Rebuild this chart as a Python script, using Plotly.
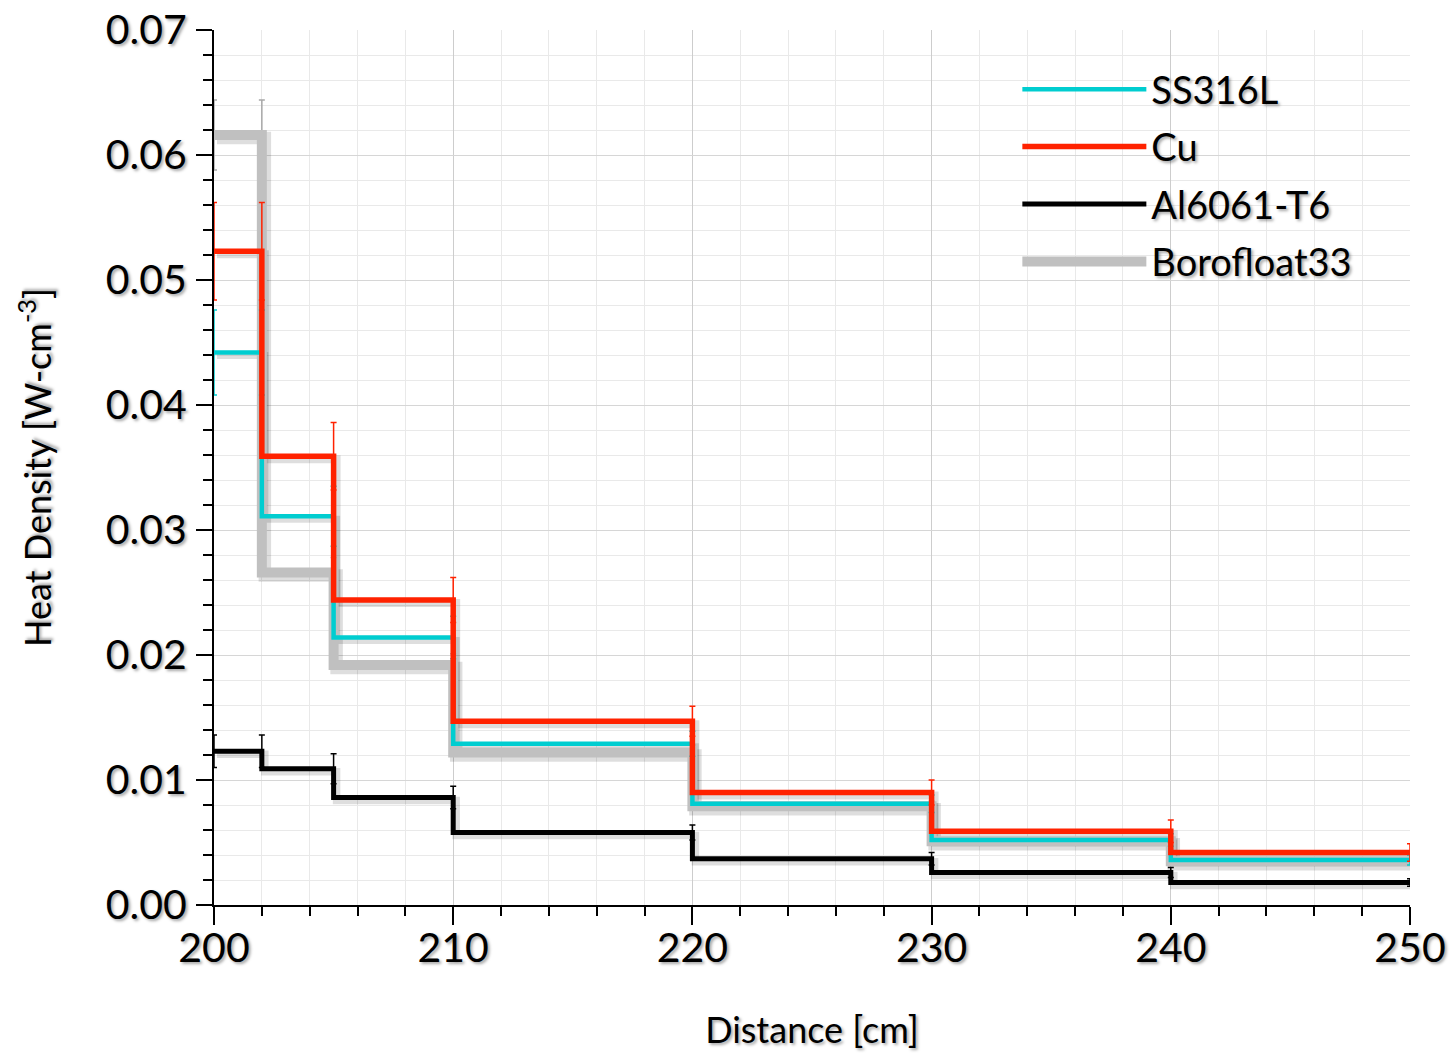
import plotly.graph_objects as go

# ---------------- data ----------------
bin_edges = [200, 202, 205, 210, 220, 230, 240, 250]

ss316l = [0.0442, 0.0311, 0.0214, 0.0129, 0.0081, 0.0052, 0.0036]
ss316l_err = [0.0034, 0.0024, 0.0017, 0.0010, 0.0007, 0.0005, 0.0004]

cu = [0.0523, 0.0359, 0.0244, 0.0147, 0.0090, 0.0059, 0.0042]
cu_err = [0.0039, 0.0027, 0.0018, 0.0012, 0.0010, 0.0009, 0.0007]

al6061 = [0.0123, 0.0109, 0.0086, 0.0058, 0.0037, 0.0026, 0.0018]
al6061_err = [0.0013, 0.0012, 0.0009, 0.0006, 0.0005, 0.0004, 0.0003]

borofloat = [0.0616, 0.0266, 0.0192, 0.0122, 0.0079, 0.0051, 0.0035]
borofloat_err = [0.0028, 0.0012, 0.0009, 0.0006, 0.0004, 0.0003, 0.0003]

x_ticks = [200, 210, 220, 230, 240, 250]
y_ticks = [0.00, 0.01, 0.02, 0.03, 0.04, 0.05, 0.06, 0.07]

# ---------------- styling ----------------
FONT = "Lato"
TXT_SHADOW = "2px 2px 3px rgba(0,0,0,0.35)"
W, H = 1453, 1053
ML, MR, MT, MB = 214, 43, 30, 148
X_RANGE = [200, 250]
Y_RANGE = [0, 0.07]
SH_DX, SH_DY = 3, 3  # shadow offset in px

px_per_x = (W - ML - MR) / (X_RANGE[1] - X_RANGE[0])
px_per_y = (H - MT - MB) / (Y_RANGE[1] - Y_RANGE[0])
dx = SH_DX / px_per_x
dy = SH_DY / px_per_y


def step_xy(vals, errs):
    # first edge repeats the first bin value; each further edge carries its bin value
    return list(bin_edges), [vals[0]] + list(vals), [errs[0]] + list(errs)


series = [
    # name, values, errors, color, width, err color, legend rank
    ("Borofloat33", borofloat, borofloat_err, "#c0c0c0", 10, "#a8a8a8", 4),
    ("SS316L", ss316l, ss316l_err, "#00cdd0", 4.5, "#00cdd0", 1),
    ("Al6061-T6", al6061, al6061_err, "#000000", 5, "#000000", 3),
    ("Cu", cu, cu_err, "#ff2200", 5.5, "#ff2200", 2),
]

fig = go.Figure()

# shadows (on the base, slightly shifted axes)
for name, vals, errs, color, width, ecolor, rank in series:
    xs, ys, es = step_xy(vals, errs)
    fig.add_trace(go.Scatter(
        x=xs, y=ys, mode="lines", line=dict(shape="vh", width=width + 2.5,
                                             color="rgba(0,0,0,0.13)"),
        xaxis="x", yaxis="y", showlegend=False, hoverinfo="skip", cliponaxis=False,
    ))

# real series (on the visible overlay axes)
for name, vals, errs, color, width, ecolor, rank in series:
    xs, ys, es = step_xy(vals, errs)
    fig.add_trace(go.Scatter(
        x=xs, y=ys, name=name, mode="lines",
        line=dict(shape="vh", width=width, color=color),
        error_y=dict(type="data", array=es, visible=True, color=ecolor,
                     thickness=1.5, width=3),
        xaxis="x2", yaxis="y2", legendrank=rank, legendgroup=name,
        cliponaxis=False,
    ))

tickfont = dict(family=FONT, size=41, color="black", shadow=TXT_SHADOW)
titlefont = dict(family=FONT, size=36, color="black", shadow=TXT_SHADOW)

fig.update_layout(
    width=W, height=H,
    margin=dict(l=ML, r=MR, t=MT, b=MB, autoexpand=False),
    paper_bgcolor="white", plot_bgcolor="white",
    font=dict(family=FONT, color="black"),
    xaxis=dict(range=[X_RANGE[0] - dx, X_RANGE[1] - dx], visible=False,
               showgrid=False, zeroline=False, automargin=False),
    yaxis=dict(range=[Y_RANGE[0] + dy, Y_RANGE[1] + dy], visible=False,
               showgrid=False, zeroline=False, automargin=False),
    xaxis2=dict(
        overlaying="x", anchor="y2", side="bottom", range=X_RANGE, automargin=False,
        tickmode="array", tickvals=x_ticks, ticktext=[str(v) for v in x_ticks],
        ticks="outside", ticklen=18, tickwidth=2, tickcolor="black",
        showline=True, linecolor="black", linewidth=2,
        showgrid=True, gridcolor="#cdcdcd", gridwidth=1, zeroline=False,
        tickfont=tickfont, ticklabelstandoff=-12, ticklabeloverflow="allow",
        minor=dict(dtick=2, ticks="outside", ticklen=9, tickwidth=2, tickcolor="black",
                   showgrid=True, gridcolor="#e9e9e9", gridwidth=1),
        title=dict(text="Distance [cm]", font=titlefont, standoff=48),
    ),
    yaxis2=dict(
        overlaying="y", anchor="x2", side="left", range=Y_RANGE, automargin=False,
        tickmode="array", tickvals=y_ticks, ticktext=[f"{v:.2f}" for v in y_ticks],
        ticks="outside", ticklen=16, tickwidth=2, tickcolor="black",
        showline=True, linecolor="black", linewidth=2,
        showgrid=True, gridcolor="#d6d6d6", gridwidth=1, zeroline=False,
        tickfont=tickfont, ticklabelstandoff=1, ticklabeloverflow="allow",
        minor=dict(dtick=0.002, ticks="outside", ticklen=9, tickwidth=2, tickcolor="black",
                   showgrid=True, gridcolor="#e9e9e9", gridwidth=1),
        title=dict(text="Heat Density [W-cm<sup>-3</sup>]", font=dict(family=FONT, size=36,
                   color="black", shadow=TXT_SHADOW), standoff=43),
    ),
    legend=dict(
        x=0.6717, y=0.968, xanchor="left", yanchor="top",
        bgcolor="rgba(0,0,0,0)", borderwidth=0,
        font=dict(family=FONT, size=38, color="black", shadow=TXT_SHADOW),
        itemwidth=124, tracegroupgap=5, traceorder="grouped",
    ),
    showlegend=True,
)

fig.write_html("out.html", config={"displayModeBar": False},
               post_script="document.body.style.margin='0px';")
